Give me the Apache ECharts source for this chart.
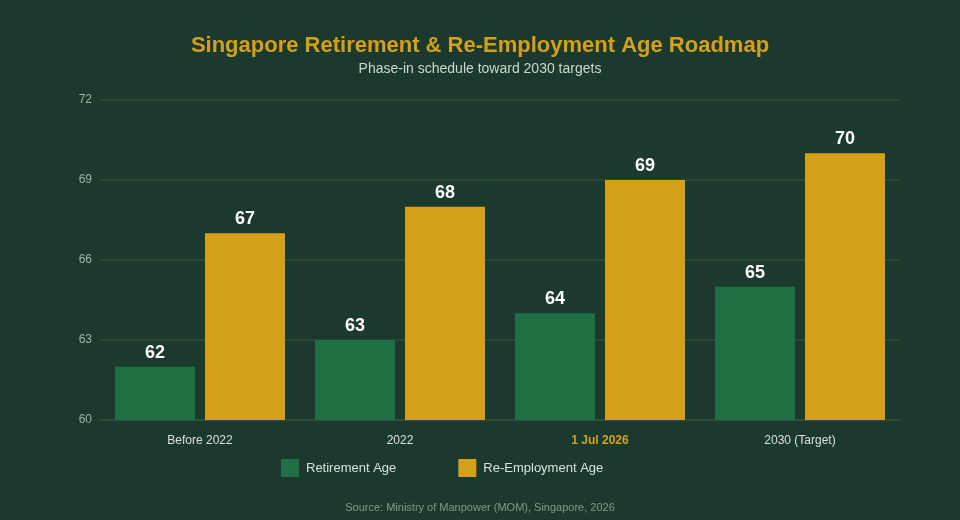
<!DOCTYPE html>
<html>
<head>
<meta charset="utf-8">
<style>
  html, body { margin: 0; padding: 0; background: #1b3a2d; }
  #chart { width: 960px; height: 520px; }
</style>
<script src="https://cdn.jsdelivr.net/npm/echarts@6/dist/echarts.min.js"></script>
</head>
<body>
<div id="chart"></div>
<script>
const categories = ['Before 2022', '2022', '1 Jul 2026', '2030 (Target)']
const retirementAge = [62, 63, 64, 65]
const reEmploymentAge = [67, 68, 69, 70]
const highlightCategory = '1 Jul 2026'

const myChart = echarts.init(document.getElementById('chart'))

const labelStyle = {
  show: true,
  position: 'top',
  distance: 5,
  color: '#ffffff',
  fontSize: 18,
  fontWeight: 'bold',
  fontFamily: 'Liberation Sans, Arial, sans-serif'
}

myChart.setOption({
  backgroundColor: '#1b3a2d',
  textStyle: { fontFamily: 'Liberation Sans, Arial, sans-serif' },
  title: [
    {
      text: 'Singapore Retirement & Re-Employment Age Roadmap',
      subtext: 'Phase-in schedule toward 2030 targets',
      left: 'center',
      top: 30,
      itemGap: 5,
      textStyle: { color: '#d4a017', fontSize: 22, fontWeight: 'bold' },
      subtextStyle: { color: '#cdd6d0', fontSize: 14 }
    },
    {
      text: 'Source: Ministry of Manpower (MOM), Singapore, 2026',
      left: 'center',
      top: 497,
      textStyle: { color: '#7f9a8c', fontSize: 11, fontWeight: 'normal' }
    }
  ],
  legend: {
    top: 454,
    left: 276,
    itemWidth: 18,
    itemHeight: 18,
    itemGap: 62,
    icon: 'rect',
    textStyle: { color: '#d8e0db', fontSize: 13, padding: [0, 0, 0, 2] },
    data: ['Retirement Age', 'Re-Employment Age']
  },
  grid: { left: 100, right: 60, top: 100, bottom: 100 },
  xAxis: {
    type: 'category',
    data: categories,
    axisTick: { show: false },
    axisLine: { lineStyle: { color: '#2f4f40' } },
    axisLabel: {
      margin: 15,
      color: '#d8e0db',
      fontSize: 12,
      formatter: (v) => v === highlightCategory ? '{hl|' + v + '}' : v,
      rich: {
        hl: { color: '#d4a017', fontWeight: 'bold', fontSize: 12 }
      }
    }
  },
  yAxis: {
    type: 'value',
    min: 60,
    max: 72,
    interval: 3,
    axisLabel: { color: '#9fb3a8', fontSize: 12, margin: 8 },
    splitLine: { lineStyle: { color: '#284838', width: 2 } }
  },
  series: [
    {
      name: 'Retirement Age',
      type: 'bar',
      data: retirementAge,
      barWidth: 80,
      barGap: '12.5%',
      itemStyle: { color: '#217045' },
      label: labelStyle
    },
    {
      name: 'Re-Employment Age',
      type: 'bar',
      data: reEmploymentAge,
      barWidth: 80,
      itemStyle: { color: '#d4a01a' },
      label: labelStyle
    }
  ]
})
</script>
</body>
</html>
